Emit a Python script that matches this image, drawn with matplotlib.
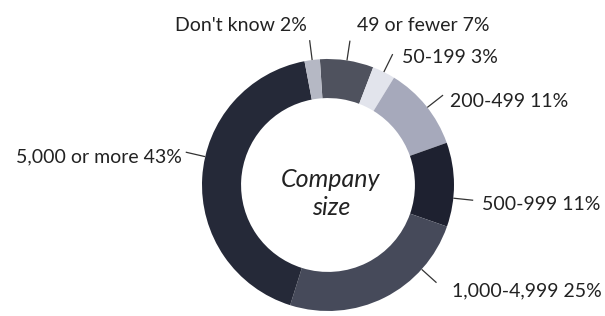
import numpy as np
import matplotlib.pyplot as plt

plt.rcParams['font.family'] = ['Lato', 'DejaVu Sans']

# data
labels = ['49 or fewer', '50-199', '200-499', '500-999', '1,000-4,999',
          '5,000 or more', "Don't know"]
shares = [7, 3, 11, 11, 25, 43, 2]
colors = ['#4f525e', '#e2e4ec', '#a6a9bb', '#1e2130', '#464a5a',
          '#252938', '#b5b8c4']

# label layout (pixel coords of the 605x316 canvas, y = text baseline from top)
text_pos = [(357, 31), (402, 63), (450, 107), (482, 210), (452, 296),
            (182, 162), (307, 31)]
text_ha = ['left', 'left', 'left', 'left', 'left', 'right', 'right']
leader_ang = [None, None, 38, -6, -42, 167, None]  # None -> wedge middle

W, H = 605, 316
cx, cy = 328, H - 185
R, ring = 126, 0.31

fig = plt.figure(figsize=(W / 100, H / 100), dpi=100)
ax = fig.add_axes([0, 0, 1, 1])

wedges, _ = ax.pie(shares, colors=colors, startangle=93.7, counterclock=False,
                   radius=R, center=(cx, cy),
                   wedgeprops=dict(width=R * ring, linewidth=0))
ax.set_xlim(0, W)
ax.set_ylim(0, H)
ax.set_aspect('equal')
ax.axis('off')

for w, lab, s, (tx, ty), ha, ang in zip(wedges, labels, shares, text_pos,
                                         text_ha, leader_ang):
    if ang is None:
        ang = (w.theta1 + w.theta2) / 2
    a = np.deg2rad(ang)
    r0, r1 = R, R + 20
    ax.plot([cx + r0 * np.cos(a), cx + r1 * np.cos(a)],
            [cy + r0 * np.sin(a), cy + r1 * np.sin(a)],
            color='#333333', lw=0.9, solid_capstyle='butt')
    ax.text(tx, H - ty, f'{lab} {s}%', ha=ha, va='baseline', fontsize=14,
            color='#222222')

ax.text(cx + 3, H - 187, 'Company', ha='center', va='baseline', fontsize=18,
        style='italic', color='#222222')
ax.text(cx + 3, H - 215, 'size', ha='center', va='baseline', fontsize=18,
        style='italic', color='#222222')

fig.savefig('out.png', dpi=100, facecolor='white')
